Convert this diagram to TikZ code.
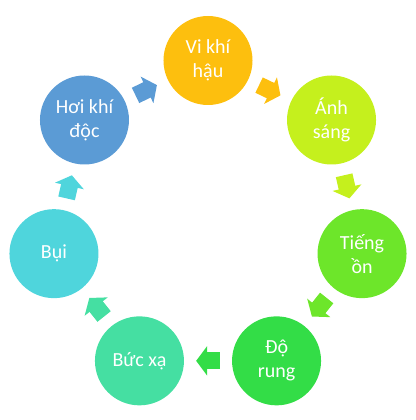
\documentclass[tikz,border=0pt]{standalone}
\usepackage{fontspec}
\setmainfont{Carlito}
\usetikzlibrary{arrows.meta}
\definecolor{cvk}{HTML}{FDBF0E}
\definecolor{cas}{HTML}{C5F01D}
\definecolor{cto}{HTML}{6DE62A}
\definecolor{cdr}{HTML}{33DD47}
\definecolor{cbx}{HTML}{45DFA2}
\definecolor{cbu}{HTML}{4FD5DC}
\definecolor{chk}{HTML}{5B9BD5}
\tikzset{
  ball/.style={circle,minimum size=89pt,inner sep=0pt,text=white,align=center,font=\fontsize{20}{24}\selectfont},
  blk/.style={draw=#1,line width=17pt,shorten <=12pt,shorten >=12pt,-{Triangle[length=11pt,width=29pt]}},
}
\begin{document}
\begin{tikzpicture}
\useasboundingbox (-208pt,-201.5pt) rectangle (207pt,218.5pt);
\node[ball,fill=cvk] (vk) at (90:158pt) {Vi khí\\hậu};
\node[ball,fill=cas] (as) at (90-360/7:158pt) {Ánh\\sáng};
\node[ball,fill=cto] (to) at (90-2*360/7:158pt) {Tiếng\\ồn};
\node[ball,fill=cdr] (dr) at (90-3*360/7:158pt) {Độ\\rung};
\node[ball,fill=cbx] (bx) at (90-4*360/7:158pt) {Bức xạ};
\node[ball,fill=cbu] (bu) at (90-5*360/7:158pt) {Bụi};
\node[ball,fill=chk] (hk) at (90-6*360/7:158pt) {Hơi khí\\độc};
% block arrows round the cycle
\draw[blk=cvk] (vk) -- (as);
\draw[blk=cas] (as) -- (to);
\draw[blk=cto] (to) -- (dr);
\draw[blk=cdr] (dr) -- (bx);
\draw[blk=cbx] (bx) -- (bu);
\draw[blk=cbu] (bu) -- (hk);
\draw[blk=chk] (hk) -- (vk);
\end{tikzpicture}
\end{document}
